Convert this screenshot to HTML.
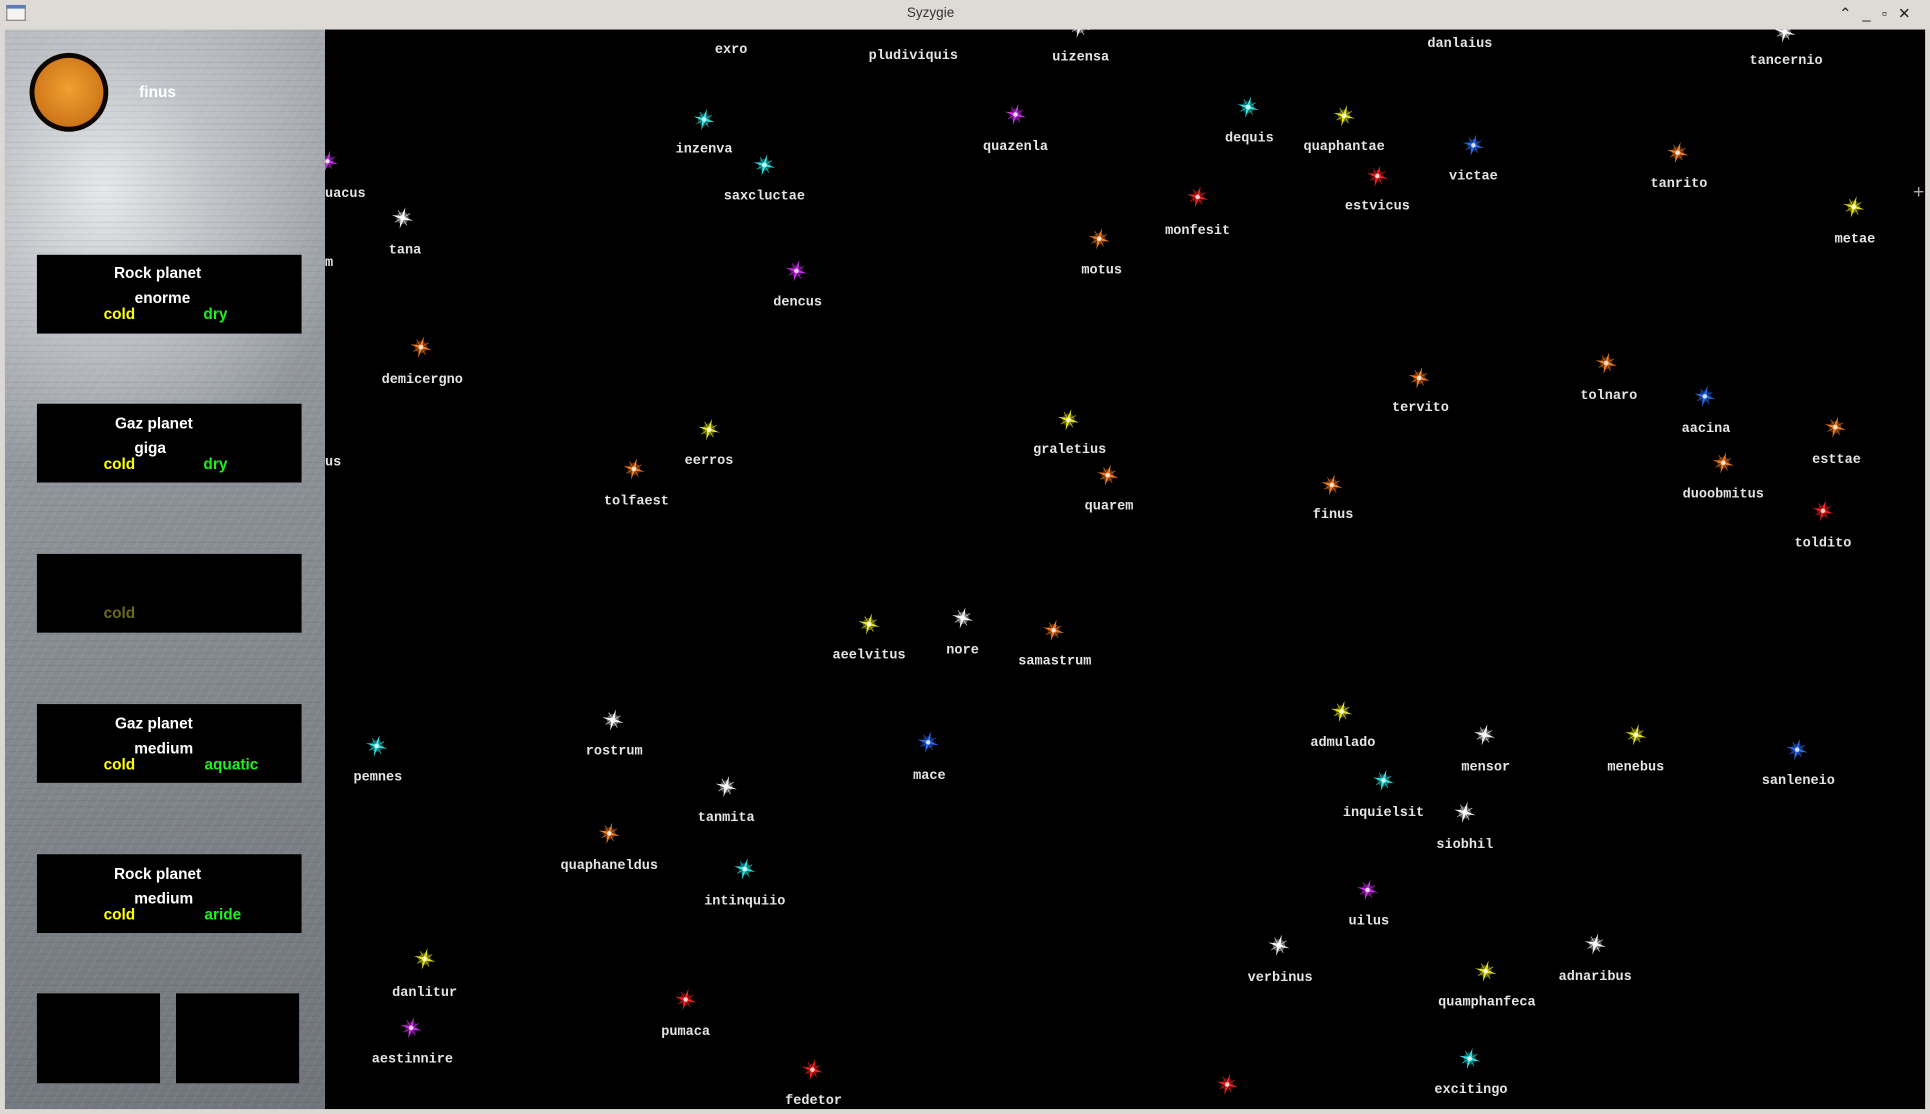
<!DOCTYPE html>
<html><head><meta charset="utf-8"><style>
html,body{margin:0;padding:0;width:1930px;height:1114px;overflow:hidden;background:#dcd9d5}
#s{position:absolute;left:0;top:0;width:1568px;height:905px;transform:scale(1.2309);transform-origin:0 0;background:#dcd9d5;font-family:"Liberation Sans",sans-serif}
.tb{position:absolute;left:0;top:0;width:1568px;height:24px;background:#dedbd7}
.title{position:absolute;left:0;width:1512px;top:5px;text-align:center;font-size:11px;color:#333}
.sky{position:absolute;left:264px;top:24px;width:1300px;height:877px;background:#000;overflow:hidden}
.panel{position:absolute;left:4px;top:24px;width:260px;height:877px;background:repeating-linear-gradient(120deg,rgba(255,255,255,0.06) 0 1px,rgba(0,0,0,0) 1px 7px),repeating-linear-gradient(0deg,rgba(0,0,0,0.05) 0 1px,rgba(0,0,0,0) 1px 5px),radial-gradient(ellipse 200px 240px at 80px 130px,#e6e8ea 0%,#c0c4c8 45%,rgba(150,154,160,0) 100%),linear-gradient(160deg,#aeb2b7 0%,#8c9197 45%,#7c8187 75%,#70757b 100%);overflow:hidden}
.card{position:absolute;background:#000;color:#fff;font-weight:bold;font-size:12.5px}
.t{position:absolute;transform:translate(-50%,-50%);white-space:nowrap}
.lb{position:absolute;transform:translate(-50%,-50%);white-space:nowrap;font-family:"Liberation Mono",monospace;font-weight:bold;font-size:11px;color:#e4e4e4}
</style></head><body><div id="s">
<div class="tb"></div>
<div style="position:absolute;left:5px;top:4px;width:16px;height:13px;border:1px solid #888;background:#f4f4f4;border-top:3px solid #5a7bbf;box-sizing:border-box"></div>
<div class="title">Syzygie</div>
<div style="position:absolute;left:1494px;top:4px;font-size:12px;color:#222;letter-spacing:9px">⌃_▫✕</div>
<div class="sky" id="sky"></div>
<div class="panel">
<div style="position:absolute;left:20px;top:19px;width:64px;height:64px;border-radius:50%;background:#0d0500"></div>
<div style="position:absolute;left:24px;top:23px;width:56px;height:56px;border-radius:50%;background:radial-gradient(circle at 50% 45%,#f0a030,#d27a1c 65%,#a85a10)"></div>
<div class="t" style="left:124px;top:51px;color:#fff;font-weight:bold;font-size:12.5px">finus</div>
<div class="card" style="left:26px;top:183px;width:215px;height:64px"><div class="t" style="left:98px;top:15px">Rock planet</div><div class="t" style="left:102px;top:35px">enorme</div><div class="t" style="left:67px;top:48px;color:#ff0">cold</div><div class="t" style="left:145px;top:48px;color:#2e2">dry</div></div>
<div class="card" style="left:26px;top:304px;width:215px;height:64px"><div class="t" style="left:95px;top:16px">Gaz planet</div><div class="t" style="left:92px;top:36px">giga</div><div class="t" style="left:67px;top:49px;color:#ff0">cold</div><div class="t" style="left:145px;top:49px;color:#2e2">dry</div></div>
<div class="card" style="left:26px;top:426px;width:215px;height:64px"><div class="t" style="left:67px;top:48px;color:#6a6a1c">cold</div></div>
<div class="card" style="left:26px;top:548px;width:215px;height:64px"><div class="t" style="left:95px;top:16px">Gaz planet</div><div class="t" style="left:103px;top:36px">medium</div><div class="t" style="left:67px;top:49px;color:#ff0">cold</div><div class="t" style="left:158px;top:49px;color:#2e2">aquatic</div></div>
<div class="card" style="left:26px;top:670px;width:215px;height:64px"><div class="t" style="left:98px;top:16px">Rock planet</div><div class="t" style="left:103px;top:36px">medium</div><div class="t" style="left:67px;top:49px;color:#ff0">cold</div><div class="t" style="left:151px;top:49px;color:#2e2">aride</div></div>
<div class="card" style="left:26px;top:783px;width:100px;height:73px"></div>
<div class="card" style="left:139px;top:783px;width:100px;height:73px"></div>
</div>
<div style="position:absolute;left:1554px;top:148px;color:#aaa;font-size:16px">+</div>
</div>
<script>
var C={c:"#2ee0e0",m:"#c82ee8",y:"#e0e020",o:"#f07a20",b:"#2a6af0",r:"#f02020",w:"#f0f0f0"};
var D=[
["exro",null,0,0,594,41],["pludiviquis",null,0,0,742,46],["uizensa","w",877,22,878,47],["danlaius",null,0,0,1186,36],["tancernio","w",1450,26,1451,50],
["inzenva","c",572,97,572,122],["saxcluctae","c",621,134,621,160],["quazenla","m",825,93,825,120],["dequis","c",1014,87,1015,113],["quaphantae","y",1092,94,1092,120],
["victae","b",1197,118,1197,144],["estvicus","r",1119,143,1119,168],["monfesit","r",973,160,973,188],["tanrito","o",1363,124,1364,150],["metae","y",1506,168,1507,195],
["","m",266,131,0,0],["tana","w",327,177,329,204],["motus","o",893,194,895,220],["dencus","m",647,220,648,246],["demicergno","o",342,282,343,309],
["tervito","o",1153,307,1154,332],["tolnaro","o",1305,295,1307,322],["aacina","b",1385,322,1386,349],["esttae","o",1491,347,1492,374],["duoobmitus","o",1400,376,1400,402],
["toldito","r",1481,415,1481,442],["graletius","y",868,341,869,366],["quarem","o",900,386,901,412],["finus","o",1082,394,1083,419],["eerros","y",576,349,576,375],
["tolfaest","o",515,381,517,408],["aeelvitus","y",706,507,706,533],["nore","w",782,502,782,529],["samastrum","o",856,512,857,538],["rostrum","w",498,585,499,611],
["pemnes","c",306,606,307,632],["mace","b",754,603,755,631],["tanmita","w",590,639,590,665],["quaphaneldus","o",495,677,495,704],["intinquiio","c",605,706,605,733],
["admulado","y",1090,578,1091,604],["mensor","w",1206,597,1207,624],["menebus","y",1329,597,1329,624],["sanleneio","b",1460,609,1461,635],["inquielsit","c",1124,634,1124,661],
["siobhil","w",1190,660,1190,687],["uilus","m",1111,723,1112,749],["verbinus","w",1039,768,1040,795],["adnaribus","w",1296,767,1296,794],["quamphanfeca","y",1207,789,1208,815],
["danlitur","y",345,779,345,807],["aestinnire","m",334,835,335,861],["pumaca","r",557,812,557,839],["fedetor","r",660,869,661,895],["","r",997,881,0,0],["excitingo","c",1194,860,1195,886]];
var sky=document.getElementById("sky"),h="";
var svg='<svg width="1300" height="877" style="position:absolute;left:0;top:0">';
D.forEach(function(d){
 var ox=264,oy=24;
 if(d[1]){var x=d[2]-ox,y=d[3]-oy,c=C[d[1]];
  svg+='<g transform="translate('+x+','+y+') rotate(15)"><circle r="5" fill="'+c+'" opacity="0.35"/><path d="M0,-9 L1.3,-1.3 L9,0 L1.3,1.3 L0,9 L-1.3,1.3 L-9,0 L-1.3,-1.3Z" fill="'+c+'"/><path d="M-5,-5 L5,5 M5,-5 L-5,5" stroke="'+c+'" stroke-width="0.8" opacity="0.7"/><circle r="1.8" fill="#fff" opacity="0.8"/></g>';}
 if(d[0])h+='<div class="lb" style="left:'+(d[4]-ox)+'px;top:'+(d[5]-oy)+'px">'+d[0]+'</div>';
});
svg+='</svg>';
h+='<div class="lb" style="left:0;top:134px;transform:translate(0,-50%)">uacus</div>';
h+='<div class="lb" style="left:0;top:190px;transform:translate(0,-50%)">m</div>';
h+='<div class="lb" style="left:0;top:352px;transform:translate(0,-50%)">us</div>';
sky.innerHTML=svg+h;
</script>
</body></html>
